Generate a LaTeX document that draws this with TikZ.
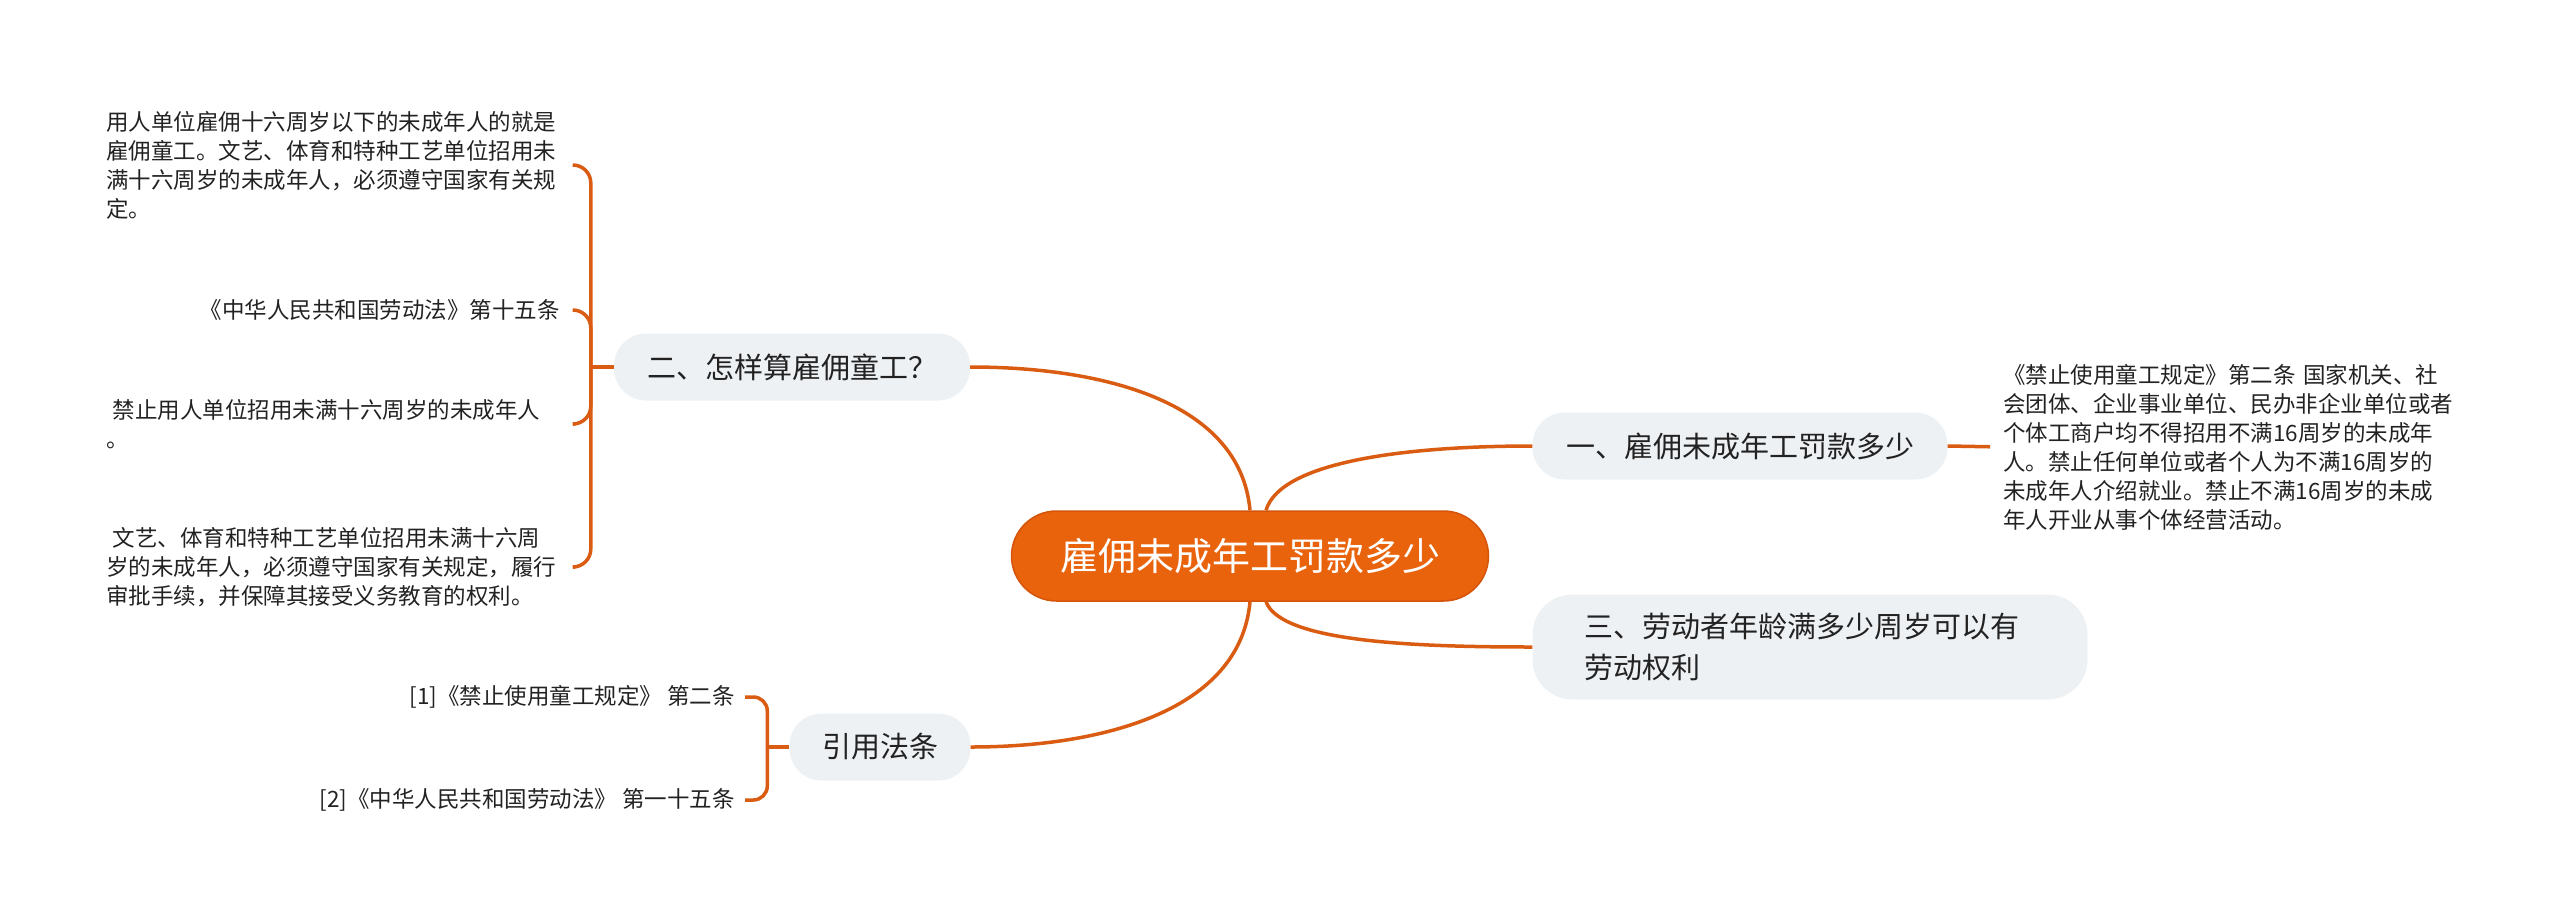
\documentclass[tikz,border=0pt]{standalone}
\usepackage{fontspec}
\setmainfont{Noto Sans CJK SC}
\definecolor{rootfill}{HTML}{E9620C}
\definecolor{rootedge}{HTML}{D4550A}
\definecolor{linkcol}{HTML}{DA5C12}
\definecolor{topicfill}{HTML}{EEF1F4}
\definecolor{inkcol}{HTML}{222222}
\begin{document}
\begin{tikzpicture}[x=1pt,y=-1pt,
  rootnode/.style={draw=rootedge,line width=1.5pt,fill=rootfill,text=white,rounded corners=45pt,minimum width=477pt,minimum height=90pt,font=\fontsize{38}{46}\selectfont},
  topic/.style={fill=topicfill,text=inkcol,rounded corners=32pt,minimum height=67pt,font=\fontsize{29}{41}\selectfont},
  leaf/.style={text=inkcol,inner sep=0pt,font=\fontsize{22.5}{29}\selectfont},
  link/.style={draw=linkcol,line width=3.5pt}]
\useasboundingbox (0,0) rectangle (2560,919);
\node[rootnode] (root) at (1250,556) {雇佣未成年工罚款多少};
\node[topic,minimum width=415pt] (fine) at (1740,446) {一、雇佣未成年工罚款多少};
\node[topic,minimum width=356pt] (what) at (792,367) {二、怎样算雇佣童工？};
\node[topic,minimum height=105pt,rounded corners=40pt,inner xsep=52pt,text width=451pt,align=left] (age) at (1810,647) {三、劳动者年龄满多少周岁可以有\\劳动权利};
\node[topic,minimum width=181pt] (cite) at (880,747) {引用法条};
\node[leaf,anchor=west,text width=460pt,align=left] (rule) at (2003,447) {《禁止使用童工规定》第二条 国家机关、社\\会团体、企业事业单位、民办非企业单位或者\\个体工商户均不得招用不满16周岁的未成年\\人。禁止任何单位或者个人为不满16周岁的\\未成年人介绍就业。禁止不满16周岁的未成\\年人开业从事个体经营活动。};
\node[leaf,anchor=west,text width=454pt,align=left] (w1) at (106,165) {用人单位雇佣十六周岁以下的未成年人的就是\\雇佣童工。文艺、体育和特种工艺单位招用未\\满十六周岁的未成年人，必须遵守国家有关规\\定。};
\node[leaf,anchor=east,align=right] (w2) at (560,310) {《中华人民共和国劳动法》第十五条};
\node[leaf,anchor=west,text width=454pt,align=left] (w3) at (106,424) {\hspace*{.3em}禁止用人单位招用未满十六周岁的未成年人\\。};
\node[leaf,anchor=west,text width=454pt,align=left] (w4) at (106,567) {\hspace*{.3em}文艺、体育和特种工艺单位招用未满十六周\\岁的未成年人，必须遵守国家有关规定，履行\\审批手续，并保障其接受义务教育的权利。};
\node[leaf,anchor=east] (c1) at (735,697) {[1]《禁止使用童工规定》 第二条};
\node[leaf,anchor=east] (c2) at (735,800) {[2]《中华人民共和国劳动法》 第一十五条};
\draw[link] ([xshift=16pt]root.north) .. controls +(15,-50) and +(-120,0) .. (fine.west);
\draw[link] ([xshift=16pt]root.south) .. controls +(15,40) and +(-120,0) .. (age.west);
\draw[link] (root.north) .. controls +(-10,-110) and +(130,0) .. (what.east);
\draw[link] (root.south) .. controls +(-10,110) and +(130,0) .. (cite.east);
\draw[link,shorten >=13pt] (fine.east) -- (rule.west);
\coordinate (whatfork) at ([xshift=-23pt]what.west);
\draw[link] (what.west) -- (whatfork);
\foreach \n in {w1,w2,w3,w4}
  \draw[link,rounded corners=18pt] (whatfork) |- ([xshift=15pt]\n.east);
\coordinate (citefork) at ([xshift=-22pt]cite.west);
\draw[link] (cite.west) -- (citefork);
\foreach \n in {c1,c2}
  \draw[link,rounded corners=14pt] (citefork) |- ([xshift=10pt]\n.east);
\end{tikzpicture}
\end{document}
